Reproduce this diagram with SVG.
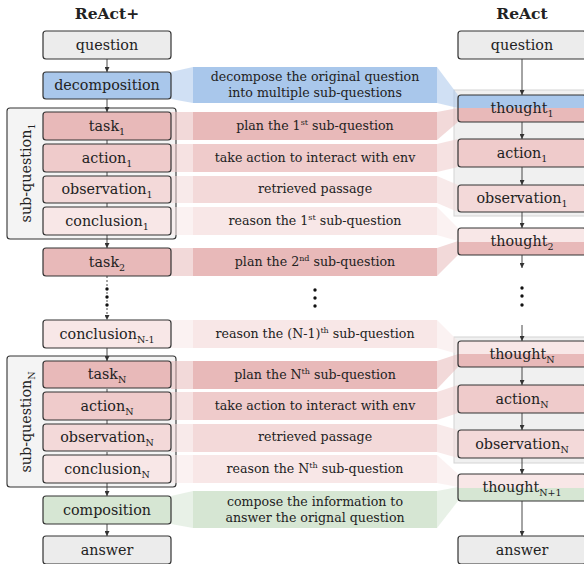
<svg xmlns="http://www.w3.org/2000/svg" width="584" height="564" viewBox="0 0 584 564">
<defs>
<style>
text{font-family:"DejaVu Serif","Liberation Serif",serif;fill:#222}
.t{font-size:14.3px;text-anchor:middle}
.b{font-size:12.6px;text-anchor:middle}
.h{font-size:15.5px;font-weight:bold;text-anchor:middle}
.s{font-size:9.5px}
.box{stroke:#333;stroke-width:1.2}
.grp{fill:#f4f4f4;stroke:#333;stroke-width:1.1}
.rbg{fill:#f0f0f0;stroke:#d4d4d4;stroke-width:1}
.gray{fill:#ececec}.blue{fill:#a9c7eb}.task{fill:#e8b9b9}.act{fill:#efcbcb}.obs{fill:#f3d9d9}.con{fill:#f8e7e7}.grn{fill:#d6e6d3}
.fan{opacity:0.55}
.ln{stroke:#333;stroke-width:0.9;fill:none}
.dsh{stroke-dasharray:2 2}
</style>
<marker id="ah" viewBox="0 0 6 6" refX="6" refY="3" markerWidth="5" markerHeight="5" orient="auto" markerUnits="userSpaceOnUse">
<path d="M0,0 L6,3 L0,6 z" fill="#333"/>
</marker>
<linearGradient id="g-bt" x1="0" y1="0" x2="0" y2="1"><stop offset="0.5" stop-color="#a9c7eb"/><stop offset="0.5" stop-color="#e8b9b9"/></linearGradient>
<linearGradient id="g-ct" x1="0" y1="0" x2="0" y2="1"><stop offset="0.5" stop-color="#f8e7e7"/><stop offset="0.5" stop-color="#e8b9b9"/></linearGradient>
<linearGradient id="g-cg" x1="0" y1="0" x2="0" y2="1"><stop offset="0.5" stop-color="#f8e7e7"/><stop offset="0.5" stop-color="#d6e6d3"/></linearGradient>
</defs>

<text class="h" x="107" y="19">ReAct+</text>
<text class="h" x="522" y="19">ReAct</text>

<!-- background groups -->
<g id="sub-question-1"><rect class="grp" x="7" y="108" width="169" height="131" rx="3"/><text class="t" transform="translate(31,173) rotate(-90)">sub-question<tspan class="s" dy="4">1</tspan></text></g>
<g id="sub-question-N"><rect class="grp" x="7" y="356" width="169" height="131" rx="3"/><text class="t" transform="translate(31,422) rotate(-90)">sub-question<tspan class="s" dy="4">N</tspan></text></g>
<g id="react-loop-1"><rect class="rbg" x="454" y="90" width="140" height="126"/></g>
<g id="react-loop-N"><rect class="rbg" x="454" y="337" width="140" height="126"/></g>

<!-- banners -->
<g id="banner-decompose"><polygon class="blue fan" points="171,72 193,67 193,103 171,99"/><rect class="blue" x="193" y="67" width="244" height="36"/><polygon class="blue fan" points="437,67 458,95 458,108 437,103"/><text class="b" x="315" y="81">decompose the original question</text><text class="b" x="315" y="97">into multiple sub-questions</text></g>
<g id="banner-plan1"><polygon class="task fan" points="171,112 193,112 193,140 171,140"/><rect class="task" x="193" y="112" width="244" height="28"/><polygon class="task fan" points="437,112 458,108 458,122 437,140"/><text class="b" x="315" y="130">plan the 1<tspan dy="-5" font-size="8">st</tspan><tspan dy="5"> sub-question</tspan></text></g>
<g id="banner-action1"><polygon class="act fan" points="171,144 193,144 193,172 171,172"/><rect class="act" x="193" y="144" width="244" height="28"/><polygon class="act fan" points="437,144 458,139 458,167 437,172"/><text class="b" x="315" y="162">take action to interact with env</text></g>
<g id="banner-obs1"><polygon class="obs fan" points="171,176 193,176 193,203 171,203"/><rect class="obs" x="193" y="176" width="244" height="27"/><polygon class="obs fan" points="437,176 458,185 458,212 437,203"/><text class="b" x="315" y="193">retrieved passage</text></g>
<g id="banner-reason1"><polygon class="con fan" points="171,207 193,207 193,235 171,235"/><rect class="con" x="193" y="207" width="244" height="28"/><polygon class="con fan" points="437,207 458,228 458,241 437,235"/><text class="b" x="315" y="225">reason the 1<tspan dy="-5" font-size="8">st</tspan><tspan dy="5"> sub-question</tspan></text></g>
<g id="banner-plan2"><polygon class="task fan" points="171,248 193,248 193,276 171,276"/><rect class="task" x="193" y="248" width="244" height="28"/><polygon class="task fan" points="437,248 458,241 458,255 437,276"/><text class="b" x="315" y="266">plan the 2<tspan dy="-5" font-size="8">nd</tspan><tspan dy="5"> sub-question</tspan></text></g>
<g id="banner-reasonN1"><polygon class="con fan" points="171,320 193,320 193,348 171,348"/><rect class="con" x="193" y="320" width="244" height="28"/><polygon class="con fan" points="437,320 458,341 458,354 437,348"/><text class="b" x="315" y="338">reason the (N-1)<tspan dy="-5" font-size="8">th</tspan><tspan dy="5"> sub-question</tspan></text></g>
<g id="banner-planN"><polygon class="task fan" points="171,361 193,361 193,389 171,389"/><rect class="task" x="193" y="361" width="244" height="28"/><polygon class="task fan" points="437,361 458,354 458,367 437,389"/><text class="b" x="315" y="379">plan the N<tspan dy="-5" font-size="8">th</tspan><tspan dy="5"> sub-question</tspan></text></g>
<g id="banner-actionN"><polygon class="act fan" points="171,392 193,392 193,420 171,420"/><rect class="act" x="193" y="392" width="244" height="28"/><polygon class="act fan" points="437,392 458,385 458,413 437,420"/><text class="b" x="315" y="410">take action to interact with env</text></g>
<g id="banner-obsN"><polygon class="obs fan" points="171,424 193,424 193,452 171,452"/><rect class="obs" x="193" y="424" width="244" height="28"/><polygon class="obs fan" points="437,424 458,430 458,458 437,452"/><text class="b" x="315" y="441">retrieved passage</text></g>
<g id="banner-reasonN"><polygon class="con fan" points="171,455 193,455 193,483 171,483"/><rect class="con" x="193" y="455" width="244" height="28"/><polygon class="con fan" points="437,455 458,474 458,487 437,483"/><text class="b" x="315" y="473">reason the N<tspan dy="-5" font-size="8">th</tspan><tspan dy="5"> sub-question</tspan></text></g>
<g id="banner-compose"><polygon class="grn fan" points="171,496 193,491 193,528 171,524"/><rect class="grn" x="193" y="491" width="244" height="37"/><polygon class="grn fan" points="437,491 458,487 458,501 437,528"/><text class="b" x="315" y="506">compose the information to</text><text class="b" x="315" y="522">answer the orignal question</text></g>

<!-- connectors -->
<g id="connectors">
<line class="ln" x1="107" y1="59" x2="107" y2="72" marker-end="url(#ah)"/>
<line class="ln" x1="107" y1="99" x2="107" y2="112" marker-end="url(#ah)"/>
<line class="ln" x1="107" y1="140" x2="107" y2="144"/>
<line class="ln" x1="107" y1="172" x2="107" y2="176"/>
<line class="ln" x1="107" y1="203" x2="107" y2="207"/>
<line class="ln" x1="107" y1="235" x2="107" y2="248" marker-end="url(#ah)"/>
<line class="ln dsh" x1="107" y1="276" x2="107" y2="320" marker-end="url(#ah)"/>
<line class="ln" x1="107" y1="348" x2="107" y2="361" marker-end="url(#ah)"/>
<line class="ln" x1="107" y1="389" x2="107" y2="392"/>
<line class="ln" x1="107" y1="420" x2="107" y2="424"/>
<line class="ln" x1="107" y1="452" x2="107" y2="455"/>
<line class="ln" x1="107" y1="483" x2="107" y2="496" marker-end="url(#ah)"/>
<line class="ln" x1="107" y1="524" x2="107" y2="536" marker-end="url(#ah)"/>
<line class="ln" x1="522" y1="59" x2="522" y2="95" marker-end="url(#ah)"/>
<line class="ln" x1="522" y1="122" x2="522" y2="139" marker-end="url(#ah)"/>
<line class="ln" x1="522" y1="167" x2="522" y2="185" marker-end="url(#ah)"/>
<line class="ln" x1="522" y1="212" x2="522" y2="228" marker-end="url(#ah)"/>
<line class="ln" x1="522" y1="255" x2="522" y2="268" marker-end="url(#ah)"/>
<line class="ln" x1="522" y1="325" x2="522" y2="341" marker-end="url(#ah)"/>
<line class="ln" x1="522" y1="367" x2="522" y2="385" marker-end="url(#ah)"/>
<line class="ln" x1="522" y1="413" x2="522" y2="430" marker-end="url(#ah)"/>
<line class="ln" x1="522" y1="458" x2="522" y2="474" marker-end="url(#ah)"/>
<line class="ln" x1="522" y1="501" x2="522" y2="536" marker-end="url(#ah)"/>
<g fill="#111">
<circle cx="107" cy="289" r="1.7"/><circle cx="107" cy="297" r="1.7"/><circle cx="107" cy="305" r="1.7"/>
<circle cx="315" cy="290" r="1.7"/><circle cx="315" cy="298" r="1.7"/><circle cx="315" cy="306" r="1.7"/>
<circle cx="522" cy="288" r="1.7"/><circle cx="522" cy="296" r="1.7"/><circle cx="522" cy="305" r="1.7"/>
</g>
</g>

<!-- left column nodes -->
<g id="l-question"><rect class="box gray" x="43" y="31" width="128" height="28" rx="3"/><text class="t" x="107" y="50">question</text></g>
<g id="l-decomposition"><rect class="box blue" x="43" y="72" width="128" height="27" rx="3"/><text class="t" x="107" y="90">decomposition</text></g>
<g id="l-task1"><rect class="box task" x="43" y="112" width="128" height="28" rx="3"/><text class="t" x="107" y="131">task<tspan class="s" dy="4">1</tspan></text></g>
<g id="l-action1"><rect class="box act" x="43" y="144" width="128" height="28" rx="3"/><text class="t" x="107" y="163">action<tspan class="s" dy="4">1</tspan></text></g>
<g id="l-observation1"><rect class="box obs" x="43" y="176" width="128" height="27" rx="3"/><text class="t" x="107" y="194">observation<tspan class="s" dy="4">1</tspan></text></g>
<g id="l-conclusion1"><rect class="box con" x="43" y="207" width="128" height="28" rx="3"/><text class="t" x="107" y="226">conclusion<tspan class="s" dy="4">1</tspan></text></g>
<g id="l-task2"><rect class="box task" x="43" y="248" width="128" height="28" rx="3"/><text class="t" x="107" y="267">task<tspan class="s" dy="4">2</tspan></text></g>
<g id="l-conclusionN1"><rect class="box con" x="43" y="320" width="128" height="28" rx="3"/><text class="t" x="107" y="339">conclusion<tspan class="s" dy="4">N-1</tspan></text></g>
<g id="l-taskN"><rect class="box task" x="43" y="361" width="128" height="27" rx="3"/><text class="t" x="107" y="379">task<tspan class="s" dy="4">N</tspan></text></g>
<g id="l-actionN"><rect class="box act" x="43" y="392" width="128" height="28" rx="3"/><text class="t" x="107" y="411">action<tspan class="s" dy="4">N</tspan></text></g>
<g id="l-observationN"><rect class="box obs" x="43" y="424" width="128" height="27" rx="3"/><text class="t" x="107" y="442">observation<tspan class="s" dy="4">N</tspan></text></g>
<g id="l-conclusionN"><rect class="box con" x="43" y="455" width="128" height="28" rx="3"/><text class="t" x="107" y="474">conclusion<tspan class="s" dy="4">N</tspan></text></g>
<g id="l-composition"><rect class="box grn" x="43" y="496" width="128" height="28" rx="3"/><text class="t" x="107" y="515">composition</text></g>
<g id="l-answer"><rect class="box gray" x="43" y="536" width="128" height="28" rx="3"/><text class="t" x="107" y="555">answer</text></g>

<!-- right column nodes -->
<g id="r-question"><rect class="box gray" x="458" y="31" width="128" height="28" rx="3"/><text class="t" x="522" y="50">question</text></g>
<g id="r-thought1"><rect class="box" fill="url(#g-bt)" x="458" y="95" width="128" height="27" rx="3"/><text class="t" x="522" y="113">thought<tspan class="s" dy="4">1</tspan></text></g>
<g id="r-action1"><rect class="box act" x="458" y="139" width="128" height="28" rx="3"/><text class="t" x="522" y="158">action<tspan class="s" dy="4">1</tspan></text></g>
<g id="r-observation1"><rect class="box obs" x="458" y="185" width="128" height="27" rx="3"/><text class="t" x="522" y="203">observation<tspan class="s" dy="4">1</tspan></text></g>
<g id="r-thought2"><rect class="box" fill="url(#g-ct)" x="458" y="228" width="128" height="27" rx="3"/><text class="t" x="522" y="246">thought<tspan class="s" dy="4">2</tspan></text></g>
<g id="r-thoughtN"><rect class="box" fill="url(#g-ct)" x="458" y="341" width="128" height="26" rx="3"/><text class="t" x="522" y="359">thought<tspan class="s" dy="4">N</tspan></text></g>
<g id="r-actionN"><rect class="box act" x="458" y="385" width="128" height="28" rx="3"/><text class="t" x="522" y="404">action<tspan class="s" dy="4">N</tspan></text></g>
<g id="r-observationN"><rect class="box obs" x="458" y="430" width="128" height="28" rx="3"/><text class="t" x="522" y="449">observation<tspan class="s" dy="4">N</tspan></text></g>
<g id="r-thoughtN1"><rect class="box" fill="url(#g-cg)" x="458" y="474" width="128" height="27" rx="3"/><text class="t" x="522" y="492">thought<tspan class="s" dy="4">N+1</tspan></text></g>
<g id="r-answer"><rect class="box gray" x="458" y="536" width="128" height="28" rx="3"/><text class="t" x="522" y="555">answer</text></g>
</svg>
